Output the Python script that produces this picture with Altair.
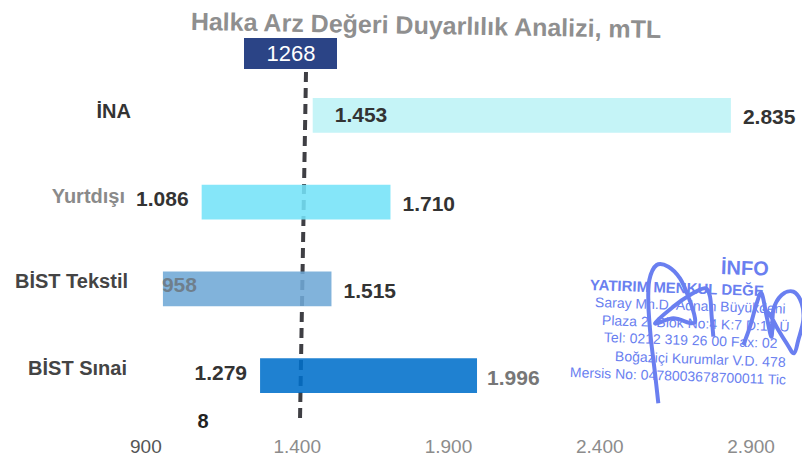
import altair as alt
import pandas as pd

FONT = "Liberation Sans"
categories = ["İNA", "Yurtdışı", "BİST Tekstil", "BİST Sınai"]
low_values = [1453, 1086, 958, 1279]
high_values = [2835, 1710, 1515, 1996]
low_labels = ["1.453", "1.086", "958", "1.279"]
high_labels = ["2.835", "1.710", "1.515", "1.996"]
bar_colors = ["#bdf3f6", "#74e2f8", "#6fa9d6", "#006fcb"]
tick_values = [900, 1400, 1900, 2400, 2900]

stamp_lines = ["Saray Mh.D. Adnan Büyükdeni", "Plaza 2. Blok No:4 K:7 D:16 Ü",
               "Tel: 0212 319 26 00 Fax: 02", "Boğaziçi Kurumlar V.D. 478", "Mersis No: 0478003678700011 Tic"]
stamp_x = [595, 602, 604, 615, 570]
stamp_y = [303, 321, 338, 357, 373]
sig_zoom_1 = [(355,490),(345,400),(332,290),(325,190),(328,120),(350,75),(385,80),(420,115),(445,170),(465,235),(455,250),(400,235),(345,250),(400,200),(450,165),(495,145),(510,170),(515,230),(520,290)]
sig_zoom_2 = [(610,315),(630,260),(650,190),(665,160),(680,230),(695,290),(700,210),(725,165),(760,155),(785,190),(790,240),(775,300),(762,340),(740,310),(715,270),(690,225),(670,205)]

df = pd.DataFrame({"cat": categories, "low": low_values, "high": high_values,
                   "low_l": low_labels, "high_l": high_labels, "color": bar_colors})
x_scale = alt.Scale(domain=[446, 3070], range=[0, 794])
y_scale = alt.Scale(domain=categories, range=[90, 385], paddingInner=0.6, paddingOuter=0)
x_axis = alt.Axis(values=tick_values, domain=False, ticks=False, grid=False, labelFontSize=19,
                  labelFont=FONT, labelPadding=2, labelFlush=False, title=None,
                  labelColor=alt.expr("datum.value == 900 ? '#555555' : '#8c8c8c'"),
                  labelExpr="replace(format(datum.value, ','), ',', '.')")
X = alt.X("low:Q", scale=x_scale, axis=x_axis)
X_high = alt.X("high:Q", scale=x_scale, axis=x_axis)
Y = alt.Y("cat:N", scale=y_scale, axis=None)

rule = alt.Chart(df.head(1)).mark_rule(color="#3f3f44", strokeWidth=4, strokeDash=[10, 6]).encode(
    x=alt.value(298), x2=alt.value(292), y=alt.value(64), y2=alt.value(412))
bars = alt.Chart(df).mark_bar(opacity=0.88).encode(
    x=X, x2="high:Q", y=Y, color=alt.Color("color:N", scale=None))

def side_text(rows, text, x, align, dx, dy, color="#333333"):
    return alt.Chart(df[df.cat.isin(rows)]).mark_text(
        align=align, baseline="middle", dx=dx, dy=dy, font=FONT, fontSize=21, fontWeight="bold", color=color
    ).encode(x=x, y=Y, text=f"{text}:N")

labels = [
    side_text(["İNA"], "low_l", X, "left", 22, 1),
    side_text(["Yurtdışı", "BİST Sınai"], "low_l", X, "right", -13, -2),
    side_text(["BİST Tekstil"], "low_l", X, "left", -1, -3, "#6f7f8c"),
    side_text(["İNA", "Yurtdışı", "BİST Tekstil"], "high_l", X_high, "left", 12, 3),
    side_text(["BİST Sınai"], "high_l", X_high, "left", 10, 3, "#777777"),
]

cat_colors = ["#333333", "#8a8a8a", "#444444", "#444444"]
cat_right = [131, 125, 128, 127]
cat_dy = [-3, -5, -7, -7]
cat_layers = [
    alt.Chart(pd.DataFrame({"cat": [c]})).mark_text(align="right", baseline="middle", dy=d, font=FONT, fontSize=20,
                                                    fontWeight="bold", color=col).encode(
        x=alt.value(r - 8), y=Y, text="cat:N")
    for c, col, r, d in zip(categories, cat_colors, cat_right, cat_dy)
]

def note(text, px, py, size, color, weight="normal", align="left", angle=0, font=FONT):
    return alt.Chart(pd.DataFrame({"t": [text]})).mark_text(
        align=align, baseline="middle", fontSize=size, color=color, fontWeight=weight, angle=angle, font=font
    ).encode(x=alt.value(px - 8), y=alt.value(py - 8), text="t:N")

title = note("Halka Arz Değeri Duyarlılık Analizi, mTL", 426, 26, 25, "#8f8f8f", "bold", "center", 1)
box = alt.Chart(df.head(1)).mark_rect(color="#2b4486").encode(
    x=alt.value(236), x2=alt.value(329), y=alt.value(30), y2=alt.value(61))
box_text = note("1268", 291, 54, 22, "#ffffff", "normal", "center")
eight = note("8", 203, 422, 20, "#222222", "bold", "center")

BLUE = "#6a7ff0"
stamp = [note("İNFO", 721, 268, 20, BLUE, "bold", "left", 2),
         note("YATIRIM MENKUL DEĞE", 590, 285, 15, BLUE, "bold", "left", 2)]
for line, sx, sy in zip(stamp_lines, stamp_x, stamp_y):
    stamp.append(note(line, sx, sy, 14, BLUE, "normal", "left", 2))

sig_rows = []
for sid, pts in enumerate([sig_zoom_1, sig_zoom_2]):
    for i, (zx, zy) in enumerate(pts):
        sig_rows.append({"s": sid, "i": i, "px": 540 + zx / 3, "py": 240 + zy / 3})
signature = alt.Chart(pd.DataFrame(sig_rows)).mark_line(color=BLUE, strokeWidth=4, interpolate="cardinal").encode(
    x=alt.X("px:Q", scale=alt.Scale(domain=[8, 802], range=[0, 794]), axis=None),
    y=alt.Y("py:Q", scale=alt.Scale(domain=[8, 435], range=[0, 427]), axis=None),
    detail="s:N", order="i:Q")

main = alt.layer(rule, bars, *labels, *cat_layers)
chart = alt.layer(main, title, box, box_text, eight, *stamp, signature).resolve_scale(
    x="independent", y="independent"
).properties(
    width=794, height=427, autosize=alt.AutoSizeParams(type="none"),
    padding={"left": 0, "top": 0, "right": 0, "bottom": 20}, background="white"
).configure_view(stroke=None)

chart.save("out.html", embed_options={"renderer": "svg", "actions": False})
